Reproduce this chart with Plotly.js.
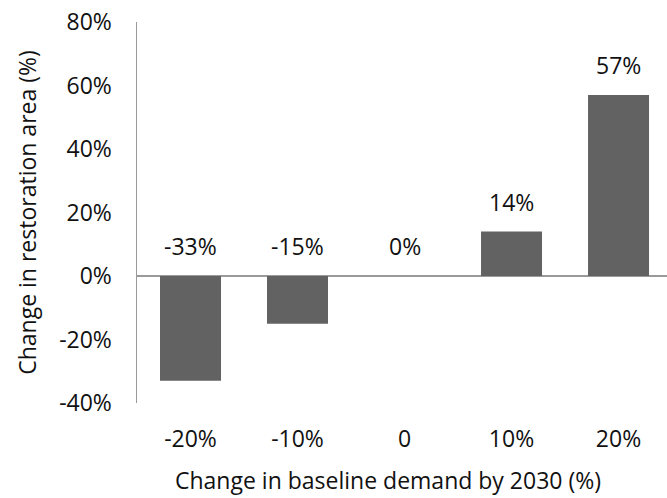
<!DOCTYPE html>
<html>
<head>
<meta charset="utf-8">
<script src="https://cdn.plot.ly/plotly-3.0.1.min.js"></script>
<style>html,body{margin:0;padding:0;background:#fff;}#chart{width:667px;height:498px;}</style>
</head>
<body>
<div id="chart"></div>
<script>
const categories = ["-20%", "-10%", "0", "10%", "20%"];
const values = [-33, -15, 0, 14, 57];
const valueLabels = ["-33%", "-15%", "0%", "14%", "57%"];
const yTickVals = [-40, -20, 0, 20, 40, 60, 80];
const yTickText = ["-40%", "-20%", "0%", "20%", "40%", "60%", "80%"];
const xTitle = "Change in baseline demand by 2030 (%)";
const yTitle = "Change in restoration area (%)";

const FONT = "Open Sans, sans-serif";
const TXT = "#111111";
const FS = 23;

const trace = {
  type: "bar",
  x: categories,
  y: values,
  marker: {color: "#626262"},
  width: 0.57,
  hoverinfo: "none"
};

const annotations = values.map((v, i) => ({
  x: i,
  y: Math.max(v, 0),
  xref: "x", yref: "y",
  text: valueLabels[i],
  showarrow: false,
  yanchor: "bottom",
  yshift: 12,
  font: {family: FONT, size: FS, color: TXT}
}));
annotations.push({
  text: xTitle,
  xref: "paper", yref: "paper",
  x: 0.474, y: -0.203,
  xanchor: "center", yanchor: "middle",
  showarrow: false,
  font: {family: FONT, size: FS, color: TXT}
});

const layout = {
  width: 667, height: 498,
  margin: {l: 137, r: 0, t: 22, b: 95},
  paper_bgcolor: "#fff", plot_bgcolor: "#fff",
  showlegend: false,
  xaxis: {
    type: "category",
    range: [-0.5, 4.453],
    showgrid: false, showline: false, zeroline: false,
    ticks: "",
    ticklabelstandoff: 20,
    tickfont: {family: FONT, size: FS, color: TXT}
  },
  yaxis: {
    range: [-40, 80],
    tickvals: yTickVals, ticktext: yTickText,
    showgrid: false,
    showline: true, linecolor: "#9a9a9a", linewidth: 1.5,
    zeroline: true, zerolinecolor: "#9a9a9a", zerolinewidth: 1.5,
    ticks: "",
    ticklabelstandoff: 19,
    tickfont: {family: FONT, size: FS, color: TXT},
    title: {text: yTitle, font: {family: FONT, size: FS, color: TXT}, standoff: 16}
  },
  annotations: annotations
};

Plotly.newPlot("chart", [trace], layout, {displayModeBar: false, staticPlot: true});
</script>
</body>
</html>
